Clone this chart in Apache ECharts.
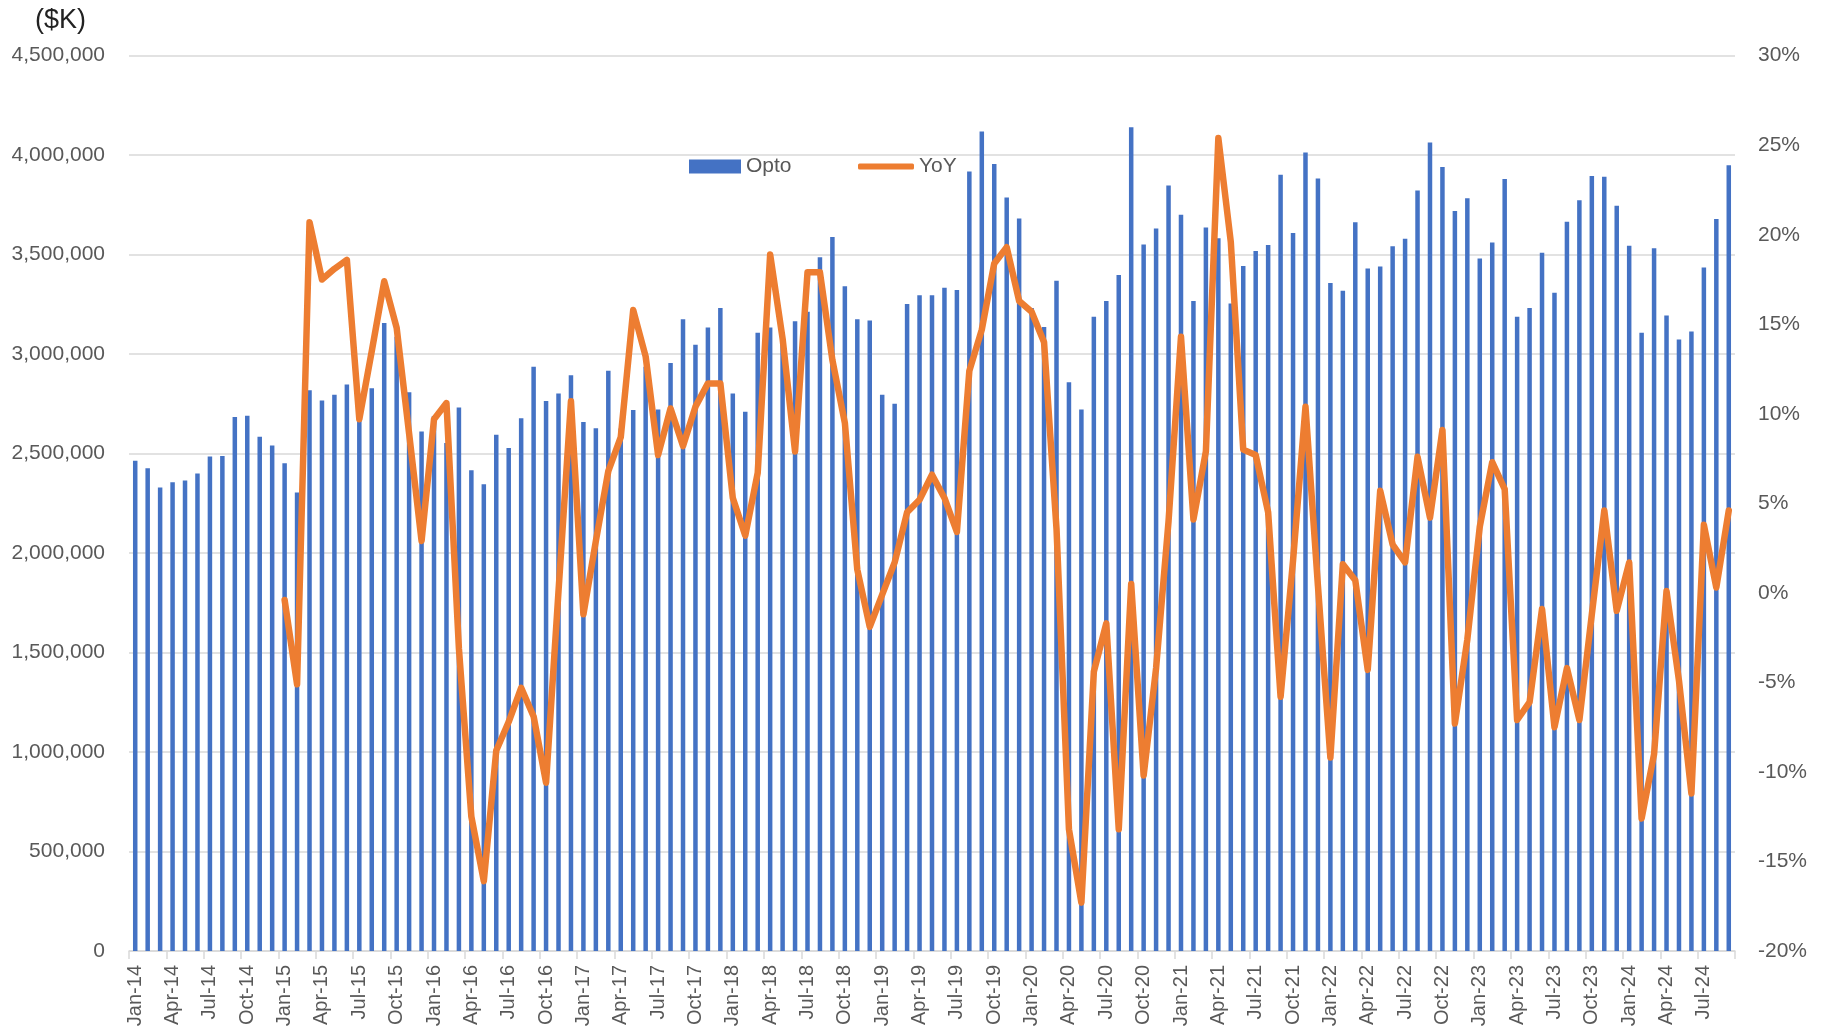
<!DOCTYPE html>
<html>
<head>
<meta charset="utf-8">
<script src="https://cdn.jsdelivr.net/npm/echarts@6/dist/echarts.min.js"></script>
<style>
html,body{margin:0;padding:0;background:#fff;}
#chart{width:1826px;height:1034px;}
</style>
</head>
<body>
<div id="chart"></div>
<script>
// Month categories Jan-14 .. Sep-24
var monthNames = ['Jan','Feb','Mar','Apr','May','Jun','Jul','Aug','Sep','Oct','Nov','Dec'];
var categories = [];
for (var y = 14; y <= 24; y++) {
  for (var m = 0; m < 12; m++) {
    if (y === 24 && m > 8) break;
    categories.push(monthNames[m] + '-' + y);
  }
}

// Opto revenue ($K)
var opto = [
  2464000, 2426000, 2330000, 2356000, 2365000, 2400000, 2486000, 2488000, 2684000, 2690000, 2585000, 2541000,
  2451000, 2305000, 2818000, 2767000, 2796000, 2847000, 2727000, 2828000, 3156000, 3087000, 2808000, 2611000,
  2689000, 2553000, 2732000, 2416000, 2346000, 2595000, 2528000, 2678000, 2936000, 2764000, 2802000, 2894000,
  2659000, 2627000, 2917000, 2626000, 2719000, 2937000, 2722000, 2955000, 3175000, 3047000, 3134000, 3232000,
  2802000, 2710000, 3108000, 3134000, 3089000, 3165000, 3213000, 3487000, 3589000, 3341000, 3175000, 3169000,
  2796000, 2751000, 3252000, 3296000, 3296000, 3334000, 3322000, 3918000, 4119000, 3956000, 3787000, 3682000,
  3232000, 3137000, 3369000, 2859000, 2722000, 3188000, 3267000, 3398000, 4141000, 3551000, 3631000, 3848000,
  3701000, 3267000, 3636000, 3583000, 3255000, 3443000, 3519000, 3548000, 3902000, 3609000, 4013000, 3883000,
  3357000, 3318000, 3663000, 3430000, 3440000, 3542000, 3580000, 3822000, 4064000, 3940000, 3720000, 3784000,
  3481000, 3561000, 3880000, 3188000, 3232000, 3510000, 3309000, 3666000, 3774000, 3895000, 3892000, 3746000,
  3545000, 3108000, 3532000, 3194000, 3073000, 3114000, 3436000, 3679000, 3950000
];

// YoY growth (%), no values for 2014
var yoy = [
  null, null, null, null, null, null, null, null, null, null, null, null,
  -0.4, -5.1, 20.7, 17.5, 18.1, 18.6, 9.7, 13.5, 17.4, 14.8, 8.9, 2.9,
  9.7, 10.6, -3.1, -12.5, -16.1, -8.8, -7.2, -5.3, -6.9, -10.6, 0.1, 10.7,
  -1.2, 2.9, 6.8, 8.7, 15.8, 13.2, 7.7, 10.3, 8.2, 10.4, 11.7, 11.7,
  5.3, 3.2, 6.7, 18.9, 14.2, 7.9, 17.9, 17.9, 13.0, 9.5, 1.3, -1.9,
  -0.1, 1.7, 4.5, 5.2, 6.6, 5.3, 3.4, 12.4, 14.7, 18.4, 19.3, 16.3,
  15.7, 14.0, 3.6, -13.2, -17.3, -4.4, -1.7, -13.2, 0.5, -10.2, -4.2, 4.0,
  14.3, 4.1, 7.9, 25.4, 19.6, 8.0, 7.7, 4.5, -5.8, 1.8, 10.4, 0.4,
  -9.2, 1.6, 0.7, -4.3, 5.7, 2.7, 1.7, 7.6, 4.2, 9.1, -7.3, -2.6,
  3.7, 7.3, 5.8, -7.1, -6.1, -0.9, -7.5, -4.2, -7.1, -1.2, 4.6, -1.0,
  1.7, -12.6, -9.0, 0.1, -4.9, -11.2, 3.8, 0.3, 4.6
];

var FONT = '"Liberation Sans", Arial, sans-serif';
var chart = echarts.init(document.getElementById('chart'), null, {renderer: 'canvas'});
chart.setOption({
  backgroundColor: '#ffffff',
  animation: false,
  title: {
    text: '($K)',
    left: 35, top: 7, padding: 0,
    textStyle: {fontFamily: FONT, fontSize: 27, fontWeight: 'normal', color: '#222222'}
  },
  legend: [
    {
      left: 689, top: 156, padding: 0,
      itemWidth: 52, itemHeight: 14,
      textStyle: {fontFamily: FONT, fontSize: 21, color: '#595959'},
      data: [{name: 'Opto', icon: 'rect'}]
    },
    {
      left: 858, top: 156, padding: 0,
      itemWidth: 56, itemHeight: 6,
      textStyle: {fontFamily: FONT, fontSize: 21, color: '#595959'},
      data: [{name: 'YoY', icon: 'roundRect'}]
    }
  ],
  grid: {left: 129, right: 91, top: 55.7, bottom: 83, containLabel: false},
  xAxis: {
    type: 'category',
    data: categories,
    boundaryGap: true,
    axisLine: {lineStyle: {color: '#d9d9d9', width: 1.5}},
    axisTick: {show: true, interval: 2, length: 8, lineStyle: {color: '#d9d9d9', width: 1.5}},
    axisLabel: {interval: 2, rotate: 90, margin: 14, fontFamily: FONT, fontSize: 20, color: '#595959'},
    splitLine: {show: false}
  },
  yAxis: [
    {
      type: 'value', min: 0, max: 4500000, interval: 500000,
      axisLine: {show: false}, axisTick: {show: false},
      axisLabel: {
        margin: 24, fontFamily: FONT, fontSize: 21, color: '#595959',
        formatter: function (v) { return v.toLocaleString('en-US'); }
      },
      splitLine: {lineStyle: {color: '#d9d9d9', width: 1.5}}
    },
    {
      type: 'value', min: -20, max: 30, interval: 5,
      axisLine: {show: false}, axisTick: {show: false},
      axisLabel: {margin: 23, fontFamily: FONT, fontSize: 21, color: '#595959', formatter: '{value}%'},
      splitLine: {show: false}
    }
  ],
  series: [
    {
      name: 'Opto', type: 'bar', data: opto, yAxisIndex: 0,
      barWidth: 4.5,
      itemStyle: {color: '#4472C4'}
    },
    {
      name: 'YoY', type: 'line', data: yoy, yAxisIndex: 1,
      symbol: 'none', smooth: false, connectNulls: false,
      lineStyle: {color: '#ED7D31', width: 6.5, cap: 'round', join: 'round'},
      itemStyle: {color: '#ED7D31'},
      z: 5
    }
  ]
});
</script>
</body>
</html>
